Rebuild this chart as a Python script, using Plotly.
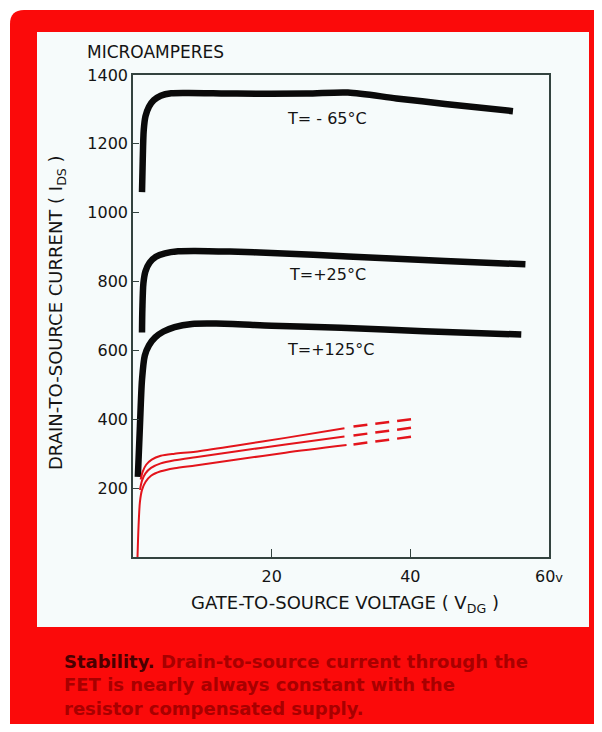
import plotly.graph_objects as go

# ---------------- data ----------------
x_m65 = [1.3, 1.4, 1.55, 1.8, 2.3, 3.0, 4.0, 5.5, 8, 15, 25, 31, 38, 45, 54.8]
y_m65 = [1060, 1150, 1240, 1280, 1308, 1327, 1340, 1347, 1348, 1346, 1346, 1349, 1332, 1316, 1295]

x_p25 = [1.3, 1.35, 1.5, 1.8, 2.4, 3.3, 4.6, 6.5, 9, 14, 20, 31, 45, 56.6]
y_p25 = [652, 720, 795, 830, 855, 872, 882, 888, 889, 887, 883, 873, 860, 850]

x_p125 = [0.7, 1.0, 1.3, 1.7, 2.3, 3.2, 4.4, 6.0, 8.5, 12, 20, 30, 42, 56]
y_p125 = [233, 380, 515, 585, 615, 638, 655, 668, 677, 678, 672, 666, 656, 646]

red_solid_x = [
    [1.1, 1.4, 1.9, 2.7, 4, 6, 9, 15, 22, 30.5],
    [1.0, 1.3, 1.8, 2.6, 4, 6, 9, 15, 22, 30.5],
    [0.65, 0.8, 1.0, 1.3, 1.8, 2.6, 4, 6, 9, 15, 22, 30.8],
]
red_solid_y = [
    [225, 248, 268, 283, 294, 300, 306, 324, 346, 374],
    [195, 222, 243, 259, 272, 281, 290, 307, 327, 350],
    [0, 90, 160, 195, 218, 236, 249, 258, 266, 283, 303, 325],
]
red_dash_x = [[31.8, 40.4], [31.8, 40.4], [31.8, 40.4]]
red_dash_y = [[379, 401], [353, 376], [327, 350]]

curve_labels = ["T= - 65°C", "T=+25°C", "T=+125°C"]
label_x = [28, 28, 28.5]
label_y = [1275, 822, 602]

x_tickvals = [20, 40, 60]
x_ticktext = ["20", "40", "60<span style='font-size:13px'>v</span>"]
y_tickvals = [200, 400, 600, 800, 1000, 1200, 1400]
y_ticktext = ["200", "400", "600", "800", "1000", "1200", "1400"]

caption = ("<span style='color:#4a0000'>Stability.</span> Drain-to-source current through the<br>"
           "FET is nearly always constant with the<br>"
           "resistor compensated supply.")

# ---------------- layout geometry helpers ----------------
OFF = 8                      # page body margin of the html page
FW, FH = 602 - 2 * OFF, 732 - 2 * OFF
L, R, T, B = 133 - OFF, 549 - OFF, 75 - OFF, 557 - OFF
PW, PH = R - L, B - T


def px(xp):
    return (xp - OFF - L) / PW


def py(yp):
    return (B - (yp - OFF)) / PH


FONT = "DejaVu Sans"
INK = "#141414"
AXC = "#33433f"
RED = "#e3141b"

fig = go.Figure()

for xs, ys in [(x_m65, y_m65), (x_p25, y_p25), (x_p125, y_p125)]:
    fig.add_trace(go.Scatter(x=xs, y=ys, mode="lines",
                             line=dict(color="#0a0a0a", width=6.5, shape="spline", smoothing=0.8),
                             hoverinfo="skip", showlegend=False))

for xs, ys in zip(red_solid_x, red_solid_y):
    fig.add_trace(go.Scatter(x=xs, y=ys, mode="lines",
                             line=dict(color=RED, width=2, shape="spline", smoothing=0.8),
                             hoverinfo="skip", showlegend=False))
for xs, ys in zip(red_dash_x, red_dash_y):
    fig.add_trace(go.Scatter(x=xs, y=ys, mode="lines",
                             line=dict(color=RED, width=2.5, dash="14px,8px"),
                             hoverinfo="skip", showlegend=False))

# card & panel shapes
x0, y0, x1, y1, r = 10, 10, 640, 740, 14
card = (f"M {px(x0+r)},{py(y0)} L {px(x1)},{py(y0)} L {px(x1)},{py(y1)} "
        f"L {px(x0+r)},{py(y1)} Q {px(x0)},{py(y1)} {px(x0)},{py(y1-r)} "
        f"L {px(x0)},{py(y0+r)} Q {px(x0)},{py(y0)} {px(x0+r)},{py(y0)} Z")
shapes = [
    dict(type="path", xref="paper", yref="paper", path=card,
         fillcolor="#fb0a0a", line=dict(width=0), layer="below"),
    dict(type="rect", xref="paper", yref="paper",
         x0=px(37), x1=px(589), y0=py(627), y1=py(32),
         fillcolor="#f6fbfb", line=dict(width=0), layer="below"),
]

annotations = []
for t, lx, ly in zip(curve_labels, label_x, label_y):
    annotations.append(dict(x=lx, y=ly, xref="x", yref="y", text=t, showarrow=False,
                            font=dict(family=FONT, size=16, color=INK)))

annotations += [
    dict(x=px(85), y=py(52), xref="paper", yref="paper", text="MICROAMPERES",
         showarrow=False, xanchor="left", yanchor="middle",
         font=dict(family=FONT, size=17, color=INK)),
    dict(x=px(57), y=py(313), xref="paper", yref="paper",
         text="DRAIN-TO-SOURCE CURRENT ( I<sub>DS</sub> )", textangle=-90,
         showarrow=False, xanchor="center", yanchor="middle",
         font=dict(family=FONT, size=18, color=INK)),
    dict(x=px(345), y=py(604), xref="paper", yref="paper",
         text="GATE-TO-SOURCE VOLTAGE ( V<sub>DG</sub> )",
         showarrow=False, xanchor="center", yanchor="middle",
         font=dict(family=FONT, size=18, color=INK)),
    dict(x=px(62), y=py(649), xref="paper", yref="paper", text="<b>" + caption + "</b>",
         showarrow=False, xanchor="left", yanchor="top", align="left",
         font=dict(family=FONT, size=18, color="#a80000")),
]

fig.update_layout(
    width=FW, height=FH, autosize=False,
    margin=dict(l=L, r=FW - R, t=T, b=FH - B, pad=0),
    paper_bgcolor="white", plot_bgcolor="#f6fbfb",
    shapes=shapes, annotations=annotations, showlegend=False,
    xaxis=dict(range=[0, 60], showgrid=False, zeroline=False,
               showline=True, linecolor=AXC, linewidth=1.5, mirror=True,
               ticks="inside", ticklen=8, tickwidth=1.2, tickcolor=AXC,
               tickvals=x_tickvals, ticktext=x_ticktext, ticklabelstandoff=4,
               tickfont=dict(family=FONT, size=16, color=INK)),
    yaxis=dict(range=[0, 1400], showgrid=False, zeroline=False,
               showline=True, linecolor=AXC, linewidth=1.5, mirror=True,
               ticks="inside", ticklen=6, tickwidth=1.2, tickcolor=AXC,
               tickvals=y_tickvals, ticktext=y_ticktext,
               tickfont=dict(family=FONT, size=16, color=INK)),
)

fig.write_html("out.html")
